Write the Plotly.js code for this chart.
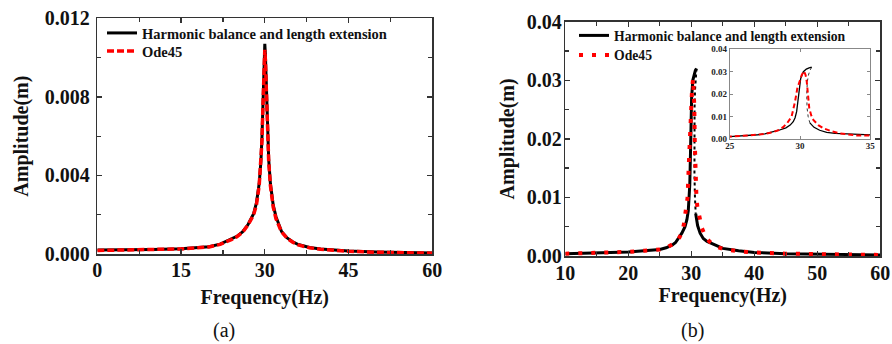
<!DOCTYPE html>
<html>
<head>
<meta charset="utf-8">
<script src="https://cdn.plot.ly/plotly-3.0.1.min.js"></script>
<style>html,body{margin:0;padding:0;background:#fff;}#chart{width:892px;height:344px;}</style>
</head>
<body>
<div id="chart"></div>
<script>
// ---------- Panel (a) ----------
const aBlackFreq = [0,5,10,15,20,22,24,25,26,27,28,28.5,29,29.3,29.5,29.65,29.8,29.9,30,30.1,30.2,30.35,30.5,30.7,31,31.5,32,33,34,35,36,38,40,45,50,55,60];
const aBlackAmp  = [0.00020,0.00021,0.00023,0.00027,0.00037,0.00050,0.00075,0.00090,0.00112,0.00150,0.00205,0.0026,0.0036,0.0047,0.0060,0.0076,0.0093,0.0102,0.0107,0.0102,0.0093,0.0076,0.0060,0.0048,0.0036,0.0025,0.0019,0.00115,0.00082,0.00062,0.00048,0.00033,0.00025,0.00015,0.00010,0.00007,0.00005];
const aRedFreq = [0,5,10,15,20,22,24,25,26,27,28,28.5,29,29.3,29.5,29.65,29.8,29.9,30,30.1,30.2,30.35,30.5,30.7,31,31.5,32,33,34,35,36,38,40,45,50,55,60];
const aRedAmp  = [0.00018,0.00020,0.00022,0.00026,0.00036,0.00049,0.00073,0.00088,0.00110,0.00148,0.00200,0.0025,0.0035,0.0046,0.0058,0.0074,0.0090,0.0099,0.0104,0.0099,0.0090,0.0074,0.0058,0.0047,0.0035,0.0024,0.0018,0.00112,0.00080,0.00060,0.00046,0.00032,0.00024,0.00014,0.00009,0.00006,0.00004];

// ---------- Panel (b) ----------
const bUpperFreq = [10,12.5,15,17.5,20,22.5,25,26,27,27.5,28,28.5,29,29.3,29.52,29.65,29.76,29.88,29.95,30.05,30.24,30.45,30.65,30.83];
const bUpperAmp  = [0.0004,0.00045,0.0005,0.0006,0.0007,0.0009,0.0011,0.0014,0.0019,0.0023,0.0030,0.0039,0.0050,0.0062,0.0077,0.0095,0.0122,0.0180,0.0226,0.0270,0.0300,0.0312,0.0317,0.0320];
const bUnstableFreq = [30.83,30.7,30.6,30.52,30.48,30.5,30.58,30.7];
const bUnstableAmp  = [0.0320,0.0305,0.0285,0.0255,0.0200,0.0140,0.0100,0.0072];
const bLowerFreq = [30.7,31.0,31.4,31.9,32.5,33.3,34,35,37.5,40,45,50,55,60];
const bLowerAmp  = [0.0072,0.0052,0.0039,0.0030,0.0025,0.0021,0.0017,0.0013,0.0009,0.0006,0.0004,0.0003,0.00022,0.00018];
const bRedFreq = [10,12,15,17.5,20,22.5,25,26,27,27.5,28,28.5,28.8,29.1,29.4,29.64,29.81,30.0,30.12,30.28,30.4,30.48,30.55,30.66,30.8,30.95,31.3,31.66,32.2,32.85,34,35,37.5,40,45,50,55,60];
const bRedAmp  = [0.0004,0.00045,0.0005,0.0006,0.0007,0.0009,0.0011,0.0014,0.0019,0.0023,0.0029,0.0040,0.0053,0.0072,0.0099,0.0165,0.0226,0.0262,0.0285,0.0303,0.0285,0.0256,0.0196,0.0137,0.0105,0.0085,0.0062,0.0048,0.0035,0.0025,0.0016,0.0012,0.0008,0.0006,0.0004,0.0003,0.00022,0.00018];

const seriesNames = ["Harmonic balance and length extension", "Ode45"];
const xTitle = "Frequency(Hz)";
const yTitle = "Amplitude(m)";
const panelLabels = ["(a)", "(b)"];

const W = 892, H = 344;
const px = v => v / W;
const py = v => 1 - v / H;

const serif = "Liberation Serif, Times New Roman, serif";
const BLACK = "#000000", RED = "#ff0000";

const traces = [
  {x: aBlackFreq, y: aBlackAmp, xaxis: "x", yaxis: "y", mode: "lines", name: seriesNames[0], legend: "legend",
   line: {color: BLACK, width: 3}},
  {x: aRedFreq, y: aRedAmp, xaxis: "x", yaxis: "y", mode: "lines", name: seriesNames[1], legend: "legend2",
   line: {color: RED, width: 3.5, dash: "7px,3px"}},
  {x: bUpperFreq, y: bUpperAmp, xaxis: "x2", yaxis: "y2", mode: "lines", name: seriesNames[0], legend: "legend3",
   line: {color: BLACK, width: 3}},
  {x: bUnstableFreq, y: bUnstableAmp, xaxis: "x2", yaxis: "y2", mode: "lines", showlegend: false,
   line: {color: BLACK, width: 2, dash: "dot"}},
  {x: bLowerFreq, y: bLowerAmp, xaxis: "x2", yaxis: "y2", mode: "lines", showlegend: false,
   line: {color: BLACK, width: 3}},
  {x: bRedFreq, y: bRedAmp, xaxis: "x2", yaxis: "y2", mode: "lines", name: seriesNames[1], legend: "legend4",
   line: {color: RED, width: 4, dash: "4px,9px"}},
  // inset
  {x: bUpperFreq, y: bUpperAmp, xaxis: "x3", yaxis: "y3", mode: "lines", showlegend: false,
   line: {color: BLACK, width: 1.3}},
  {x: bUnstableFreq, y: bUnstableAmp, xaxis: "x3", yaxis: "y3", mode: "lines", showlegend: false,
   line: {color: BLACK, width: 0.8, dash: "dot"}},
  {x: bLowerFreq, y: bLowerAmp, xaxis: "x3", yaxis: "y3", mode: "lines", showlegend: false,
   line: {color: BLACK, width: 1.3}},
  {x: bRedFreq, y: bRedAmp, xaxis: "x3", yaxis: "y3", mode: "lines", showlegend: false,
   line: {color: RED, width: 2, dash: "5px,3px"}}
];

function axisBase(extra) {
  return Object.assign({
    showline: true, linecolor: "#333", linewidth: 1.5, mirror: "allticks",
    ticks: "inside", ticklen: 5, tickwidth: 1.3, tickcolor: "#333",
    showgrid: false, zeroline: false, fixedrange: true,
    tickfont: {family: serif, size: 20, color: "#111", weight: "bold"}
  }, extra);
}
function legendAt(x, yCenter, size) {
  return {x: px(x), xanchor: "left", y: py(yCenter), yanchor: "middle", bgcolor: "rgba(0,0,0,0)",
    font: {family: serif, size: size, color: "#111", weight: "bold"}, tracegroupgap: 0, itemwidth: 30};
}
const titleFont = {family: serif, size: 20, color: "#111"};

const layout = {
  width: W, height: H,
  margin: {l: 0, r: 0, t: 0, b: 0},
  paper_bgcolor: "#fff", plot_bgcolor: "#fff",
  xaxis: axisBase({domain: [px(97.3), px(432.3)], anchor: "y", range: [0, 60], tick0: 0, dtick: 15, ticklabelstandoff: -3,
    minor: {dtick: 7.5, ticks: "inside", ticklen: 4, tickcolor: "#333"},
    title: {text: "<b>" + xTitle + "</b>", font: titleFont, standoff: 10}}),
  yaxis: axisBase({domain: [py(254), py(18.3)], anchor: "x", range: [0, 0.012], tick0: 0, dtick: 0.004, tickformat: ".3f",
    ticklabelstandoff: 2,
    minor: {dtick: 0.002, ticks: "inside", ticklen: 4, tickcolor: "#333"},
    title: {text: "<b>" + yTitle + "</b>", font: titleFont, standoff: 11}}),
  xaxis2: axisBase({domain: [px(565.3), px(880.3)], anchor: "y2", range: [10, 60], tick0: 10, dtick: 10, ticklabelstandoff: -2,
    minor: {dtick: 5, ticks: "inside", ticklen: 4, tickcolor: "#333"},
    title: {text: "<b>" + xTitle + "</b>", font: titleFont, standoff: 5}}),
  yaxis2: axisBase({domain: [py(256), py(21.7)], anchor: "x2", range: [0, 0.04], tick0: 0, dtick: 0.01, tickformat: ".2f",
    ticklabelstandoff: -2,
    minor: {dtick: 0.005, ticks: "inside", ticklen: 4, tickcolor: "#333"},
    title: {text: "<b>" + yTitle + "</b>", font: titleFont, standoff: 7}}),
  xaxis3: axisBase({domain: [px(729.7), px(870.3)], anchor: "y3", range: [25, 35], tick0: 25, dtick: 5,
    linecolor: "#888", linewidth: 1, ticklen: 3, tickwidth: 1, tickcolor: "#888", ticklabelstandoff: -2,
    tickfont: {family: serif, size: 9, color: "#222", weight: "bold"}}),
  yaxis3: axisBase({domain: [py(139), py(49.3)], anchor: "x3", range: [0, 0.04], tick0: 0, dtick: 0.01, tickformat: ".2f",
    linecolor: "#888", linewidth: 1, ticklen: 3, tickwidth: 1, tickcolor: "#888",
    tickfont: {family: serif, size: 9, color: "#222", weight: "bold"}}),
  legend: legendAt(102, 33, 14.5),
  legend2: legendAt(102, 51, 14.5),
  legend3: legendAt(574, 35.5, 13.7),
  legend4: legendAt(574, 55, 13.7),
  annotations: [
    {text: panelLabels[0], xref: "paper", yref: "paper", x: px(224), y: py(330), xanchor: "center", yanchor: "middle",
     showarrow: false, font: {family: serif, size: 20, color: "#111"}},
    {text: panelLabels[1], xref: "paper", yref: "paper", x: px(692), y: py(330), xanchor: "center", yanchor: "middle",
     showarrow: false, font: {family: serif, size: 20, color: "#111"}}
  ]
};

Plotly.newPlot("chart", traces, layout, {displayModeBar: false, staticPlot: true});
</script>
</body>
</html>
